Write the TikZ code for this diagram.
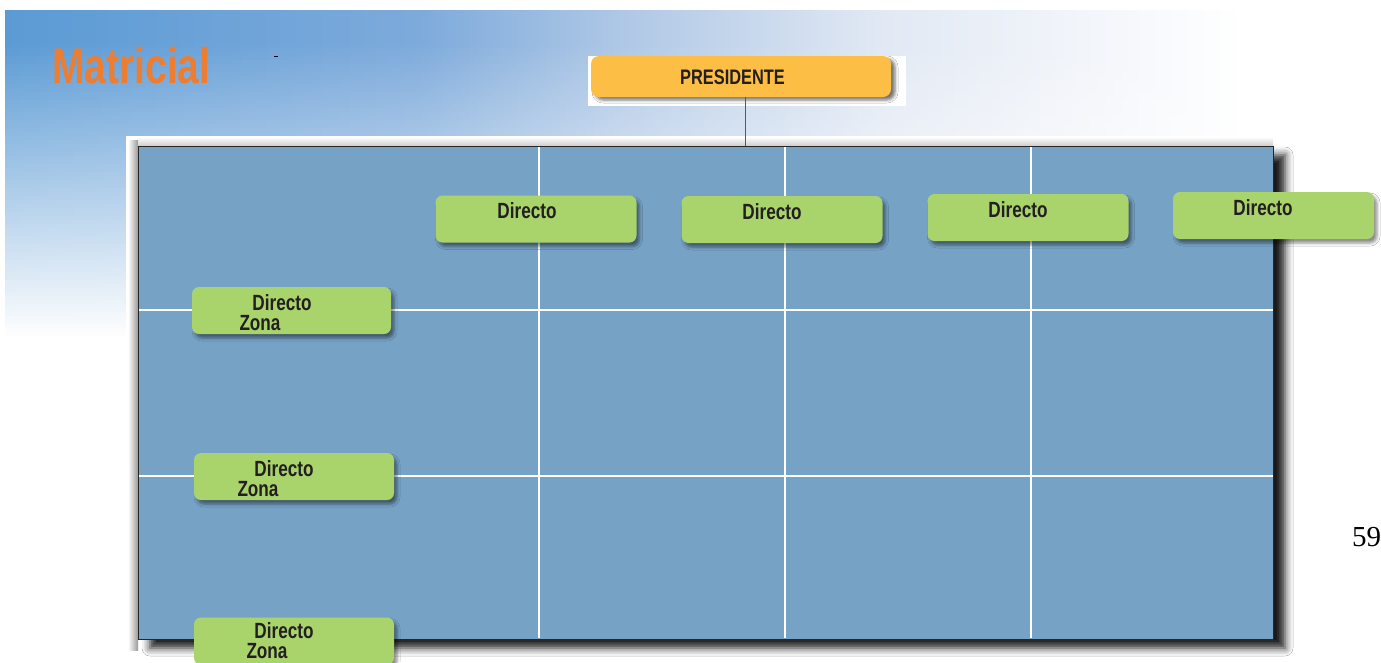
\documentclass[tikz,border=0pt]{standalone}
\usepackage{fontspec}
\usepackage{graphicx}
\setmainfont{Liberation Serif}
\newfontfamily\narf[FakeStretch=0.78]{Liberation Sans}
\usetikzlibrary{shadows.blur}
\definecolor{bannerA}{RGB}{91,155,213}
\definecolor{bannerB}{RGB}{125,170,219}
\definecolor{bannerC}{RGB}{175,200,230}
\definecolor{bannerD}{RGB}{226,233,244}
\definecolor{matblue}{RGB}{118,162,197}
\definecolor{boxgreen}{RGB}{169,212,108}
\definecolor{boxorange}{RGB}{253,190,69}
\definecolor{titleorange}{RGB}{237,125,49}
\definecolor{txtdark}{RGB}{35,31,32}
\pgfdeclarehorizontalshading{bannershade}{100bp}{color(0bp)=(bannerA); color(25bp)=(bannerA); color(40bp)=(bannerB); color(47.5bp)=(bannerC); color(57bp)=(bannerD); color(70bp)=(white); color(100bp)=(white)}
\tikzset{
  greenbox/.style={rectangle, rounded corners=7pt, fill=boxgreen, inner sep=0pt, outer sep=0pt,
    minimum width=201pt, minimum height=47pt,
    blur shadow={shadow xshift=3pt, shadow yshift=-4pt, shadow blur radius=3pt, shadow opacity=45}},
  boxtext/.style={text=txtdark, inner sep=0pt, font=\narf\bfseries\fontsize{22}{22}\selectfont},
  gridline/.style={white, line width=2.6pt},
  rowline/.style={white, line width=2pt}
}
\begin{document}
\begin{tikzpicture}[x=1pt,y=-1pt]
\useasboundingbox (0,0) rectangle (1381,662);
\fill[white] (0,0) rectangle (1381,662);
% banner
\shade[shading=bannershade] (5,10) rectangle (1381,350);
\foreach \i in {0,...,74} \fill[white, opacity={min(1,\i/74)}] (5,{40+\i*4}) rectangle (1381,{44.3+\i*4});
\fill[white] (0,340) rectangle (1381,390);
% title
\node[anchor=base west, inner sep=0pt, text=titleorange, font=\narf\bfseries\fontsize{50}{50}\selectfont] (title) at (52,83.3) {Matricial};
\draw[black, line width=0.8pt] (274,56.5) -- (277.5,56.5);
% white frame
\fill[white] (126,136) rectangle (1300,662);
\shade[left color=white, right color=black!40] (128,140) rectangle (138,650);
\shade[top color=white, bottom color=black!20] (138,137) rectangle (1273,146);
% matrix area
\node[rectangle, fill=matblue, draw=black!85, line width=0.8pt, inner sep=0pt, outer sep=0pt,
  minimum width=1135pt, minimum height=493pt,
  blur shadow={shadow xshift=12pt, shadow yshift=-9pt, shadow blur radius=8pt, shadow opacity=90}]
  (mat) at (705.5,392.5) {};
% grid lines
\foreach \xx in {539,785,1031} \draw[gridline] (\xx,147) -- (\xx,638);
\foreach \yy in {310,476} \draw[rowline] (138.5,\yy) -- (1272.5,\yy);
% president
\fill[white] (588,56) rectangle (906,106);
\node[rectangle, rounded corners=8pt, fill=boxorange, inner sep=0pt, minimum width=300pt, minimum height=41pt,
  blur shadow={shadow xshift=4pt, shadow yshift=-3pt, shadow blur radius=3pt, shadow opacity=55}]
  (pres) at (741,76.5) {};
\node[boxtext, font=\narf\bfseries\fontsize{21}{21}\selectfont] (prestext) at (732.5,77) {PRESIDENTE};
\draw[black!65, line width=1pt] ([xshift=4pt]pres.south) -- ([xshift=4pt]pres.south |- mat.north);
% top boxes
\node[greenbox] (d1) at (536,219) {};
\node[greenbox] (d2) at (782,219.5) {};
\node[greenbox] (d3) at (1028,217.5) {};
\node[greenbox] (d4) at (1273.5,215.5) {};
\node[boxtext] (t1) at (527,211) {Directo};
\node[boxtext] (t2) at (772,212) {Directo};
\node[boxtext] (t3) at (1018,210) {Directo};
\node[boxtext] (t4) at (1263,208) {Directo};
% left boxes
\node[greenbox, minimum width=199pt] (z1) at (291.5,310.5) {};
\node[greenbox, minimum width=200pt] (z2) at (294,476.5) {};
\node[greenbox, minimum width=200pt] (z3) at (294,641) {};
\node[boxtext] (z1a) at (282,302.5) {Directo};
\node[boxtext] (z1b) at (260,323) {Zona};
\node[boxtext] (z2a) at (284,469) {Directo};
\node[boxtext] (z2b) at (258,489) {Zona};
\node[boxtext] (z3a) at (284,631) {Directo};
\node[boxtext] (z3b) at (267,651.5) {Zona};
% page number
\node[anchor=base west, inner sep=0pt, font=\fontsize{29}{29}\selectfont] (page) at (1352,546.7) {59};
\end{tikzpicture}
\end{document}
